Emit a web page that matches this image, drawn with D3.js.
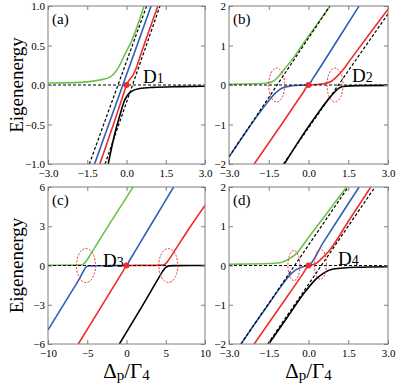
<!DOCTYPE html>
<html>
<head>
<meta charset="utf-8">
<script src="https://cdn.jsdelivr.net/npm/d3@7"></script>
<style>
  body { margin: 0; background: #fff; }
  text { font-family: "Liberation Serif", "Times New Roman", serif; }
</style>
</head>
<body>
<div id="chart"></div>
<script>
// ---- values (x = detuning, y = eigenenergy) ----
var aGreen = [[-3,0.025],[-2,0.03],[-1.5,0.04],[-1,0.065],[-0.63,0.1],[-0.31,0.22],[-0.06,0.39],[0.2,0.56],[0.45,0.78],[0.67,1.0]];
var aBlue  = [[-1.22,-1],[0.94,1]];
var aRed   = [[-1.02,-1],[-0.5,-0.5],[-0.1,-0.1],[0,0],[0.12,0.07],[0.26,0.13],[0.4,0.24],[0.52,0.36],[0.8,0.63],[1.2,1]];
var aBlack = [[-0.7,-1],[-0.45,-0.62],[-0.25,-0.38],[-0.08,-0.2],[0.15,-0.09],[0.5,-0.045],[1,-0.03],[2,-0.02],[3,-0.015]];
var aDash  = [[[-3,0],[3,0]], [[-1.42,-1],[0.77,1]], [[-0.82,-1],[1.28,1]]];

var bGreen = [[-3,0.02],[-2,0.03],[-1.6,0.045],[-1.45,0.06],[-1.3,0.11],[-1.14,0.21],[-0.89,0.42],[-0.63,0.63],[-0.3,0.95],[0.4,1.61],[0.81,2]];
var bBlue  = [[-3,-1.82],[-2.27,-1.1],[-1.9,-0.75],[-1.6,-0.48],[-1.26,-0.21],[-1.01,-0.08],[-0.63,-0.02],[-0.3,-0.005],[0,0],[0.15,0.15],[1.06,1.1],[1.91,2]];
var bRed   = [[-2.05,-2],[-1,-0.98],[-0.2,-0.19],[0,0],[0.3,0.01],[0.62,0.04],[0.85,0.09],[1.0,0.17],[1.25,0.34],[1.57,0.63],[2.13,1.14],[3,1.92]];
var bBlack = [[-0.91,-2],[-0.1,-1.15],[0.2,-0.86],[0.5,-0.58],[0.8,-0.32],[1.0,-0.17],[1.15,-0.08],[1.31,-0.04],[1.88,-0.015],[3,-0.01]];
var bDash  = [[[-3,0],[3,0]], [[-3,-1.82],[0.81,2]], [[-0.95,-2],[3,1.8]]];
var bRings = [[-1.2,0],[1.0,0]];

var cGreen = [[-10,0.02],[-5.8,0.03],[-5.4,0.15],[-5.0,0.45],[-4.5,0.93],[-2,3.33],[0.85,6]];
var cBlue  = [[-10,-4.93],[-7,-2.0],[-5.9,-0.9],[-5.5,-0.45],[-5.2,-0.15],[-4.8,-0.03],[-2,-0.01],[-0.2,0],[0,0],[0.4,0.4],[3,3],[6,6]];
var cRed   = [[-6.14,-6],[-3,-2.93],[-0.4,-0.39],[0,0],[0.4,0.005],[2,0.01],[4.6,0.03],[5.0,0.15],[5.4,0.45],[6,1.0],[8,2.85],[10,4.6]];
var cBlack = [[-0.91,-6],[2,-3.1],[4.2,-0.85],[4.6,-0.45],[5.0,-0.15],[5.4,-0.03],[6,-0.01],[10,0]];
var cDash  = [[[-10,0],[10,0]]];
var cRings = [[-5.16,0],[5.33,0]];

var dGreen = [[-3,0.03],[-2.58,0.035],[-1.5,0.05],[-1.08,0.07],[-0.7,0.18],[-0.45,0.31],[-0.07,0.65],[0.5,1.16],[1.44,2]];
var dBlue  = [[-2.55,-2],[-2,-1.46],[-1.5,-0.98],[-1.0,-0.5],[-0.7,-0.24],[-0.45,-0.1],[-0.2,-0.03],[0,0],[0.56,0.59],[1.2,1.26],[1.91,2]];
var dRed   = [[-2.05,-2],[-1,-0.98],[-0.2,-0.2],[0,0],[0.25,0.04],[0.5,0.18],[0.75,0.35],[1.5,1.12],[2.35,2]];
var dBlack = [[-1.5,-2],[-0.8,-1.32],[-0.07,-0.62],[0.31,-0.33],[0.56,-0.2],[0.94,-0.09],[1.82,-0.045],[3,-0.03]];
var dDash  = [[[-3,0],[3,0]], [[-2.55,-2],[1.5,2]], [[-1.54,-2],[2.51,2]]];
var dRings = [[-0.55,0],[0.45,0.03]];

var ticks13 = [-3, -1.5, 0, 1.5, 3];
var ticks2  = [-2, -1, 0, 1, 2];
var ticksA  = [-1, -0.5, 0, 0.5, 1];
var ticksCx = [-10, -5, 0, 5, 10];
var ticksCy = [-6, -3, 0, 3, 6];

var colours = {green: '#6cc24a', blue: '#2f5fb8', red: '#f02b2b', black: '#000'};

var panels = [
  {id: 'a', box: [48, 205, 6, 164], xd: [-3, 3], yd: [-1, 1], xt: ticks13, yt: ticksA, xf: '.1f', yf: '.1f',
   curves: [aGreen, aBlue, aRed, aBlack], dash: aDash, rings: [], rr: [0, 0], sub: '1', labAt: [0.63, 0.02]},
  {id: 'b', box: [229, 388, 6, 164], xd: [-3, 3], yd: [-2, 2], xt: ticks13, yt: ticks2, xf: '.1f', yf: 'd',
   curves: [bGreen, bBlue, bRed, bBlack], dash: bDash, rings: bRings, rr: [8, 17], sub: '2', labAt: [1.64, 0.08]},
  {id: 'c', box: [48, 205, 187, 344], xd: [-10, 10], yd: [-6, 6], xt: ticksCx, yt: ticksCy, xf: 'd', yf: 'd',
   curves: [cGreen, cBlue, cRed, cBlack], dash: cDash, rings: cRings, rr: [9.5, 17], sub: '3', labAt: [-3.0, -0.12]},
  {id: 'd', box: [229, 388, 187, 344], xd: [-3, 3], yd: [-2, 2], xt: ticks13, yt: ticks2, xf: '.1f', yf: 'd',
   curves: [dGreen, dBlue, dRed, dBlack], dash: dDash, rings: dRings, rr: [6, 15], sub: '4', labAt: [1.11, 0.01]}
];

var svg = d3.select('#chart').append('svg')
    .attr('width', 399)
    .attr('height', 383);

var curveColours = [colours.green, colours.blue, colours.red, colours.black];

function fmt(spec) {
  var f = d3.format(spec);
  return function(v) { return f(v).replace('-', '\u2212'); };
}

panels.forEach(function(p) {
  var x = d3.scaleLinear().domain(p.xd).range([p.box[0], p.box[1]]);
  var y = d3.scaleLinear().domain(p.yd).range([p.box[3], p.box[2]]);
  var w = p.box[1] - p.box[0], h = p.box[3] - p.box[2];

  svg.append('clipPath').attr('id', 'clip-' + p.id)
    .append('rect')
      .attr('x', p.box[0]).attr('y', p.box[2])
      .attr('width', w).attr('height', h);

  var g = svg.append('g').attr('clip-path', 'url(#clip-' + p.id + ')');

  var line = d3.line()
      .curve(d3.curveMonotoneX)
      .x(function(d) { return x(d[0]); })
      .y(function(d) { return y(d[1]); });

  g.selectAll('.curve')
      .data(p.curves)
    .enter().append('path')
      .attr('class', 'curve')
      .attr('d', line)
      .attr('fill', 'none')
      .attr('stroke', function(d, i) { return curveColours[i]; })
      .attr('stroke-width', 1.6);

  g.selectAll('.dash')
      .data(p.dash)
    .enter().append('path')
      .attr('class', 'dash')
      .attr('d', d3.line().x(function(d) { return x(d[0]); }).y(function(d) { return y(d[1]); }))
      .attr('fill', 'none')
      .attr('stroke', '#000')
      .attr('stroke-width', 1.2)
      .style('stroke-dasharray', '3,2');

  // avoided-crossing rings
  svg.selectAll('.ring-' + p.id)
      .data(p.rings)
    .enter().append('ellipse')
      .attr('cx', function(d) { return x(d[0]); })
      .attr('cy', function(d) { return y(d[1]); })
      .attr('rx', p.rr[0])
      .attr('ry', p.rr[1])
      .attr('fill', 'none')
      .attr('stroke', colours.red)
      .attr('stroke-width', 1)
      .style('stroke-dasharray', '2,1.5');

  // degenerate point
  svg.append('circle')
      .attr('cx', x(0)).attr('cy', y(0)).attr('r', 3)
      .attr('fill', colours.red);

  // frame + inward ticks on all sides
  svg.append('rect')
      .attr('x', p.box[0]).attr('y', p.box[2])
      .attr('width', w).attr('height', h)
      .attr('fill', 'none').attr('stroke', '#7f7f7f').attr('stroke-width', 1);

  var xAxis = d3.axisBottom(x).tickValues(p.xt).tickFormat(fmt(p.xf))
      .tickSizeInner(-4).tickSizeOuter(0).tickPadding(5);
  var yAxis = d3.axisLeft(y).tickValues(p.yt).tickFormat(fmt(p.yf))
      .tickSizeInner(-4).tickSizeOuter(0).tickPadding(3);

  var xa = svg.append('g').attr('transform', 'translate(0,' + p.box[3] + ')').call(xAxis);
  var ya = svg.append('g').attr('transform', 'translate(' + p.box[0] + ',0)').call(yAxis);
  var xt = svg.append('g').attr('transform', 'translate(0,' + p.box[2] + ')')
      .call(d3.axisTop(x).tickValues(p.xt).tickFormat('').tickSizeInner(-4).tickSizeOuter(0));
  var yr = svg.append('g').attr('transform', 'translate(' + p.box[1] + ',0)')
      .call(d3.axisRight(y).tickValues(p.yt).tickFormat('').tickSizeInner(-4).tickSizeOuter(0));

  [xa, ya, xt, yr].forEach(function(a) {
    a.select('.domain').remove();
    a.selectAll('line').attr('stroke', '#7f7f7f');
    a.selectAll('text')
        .style('font-family', '"Liberation Serif", serif')
        .style('font-size', '11px')
        .attr('fill', '#000');
  });

  // panel tag
  svg.append('text')
      .attr('x', p.box[0] + 4).attr('y', p.box[2] + 18)
      .style('font-size', '15px')
      .text('(' + p.id + ')');

  // D label
  var t = svg.append('text')
      .attr('x', x(p.labAt[0])).attr('y', y(p.labAt[1]))
      .style('font-size', '19px');
  t.append('tspan').text('D');
  t.append('tspan').style('font-size', '14px').text(p.sub);
});

// axis titles
[85, 265.5].forEach(function(cy) {
  svg.append('text')
      .attr('transform', 'translate(23,' + cy + ') rotate(-90)')
      .attr('text-anchor', 'middle')
      .style('font-size', '19px')
      .text('Eigenenergy');
});

[126.5, 308.5].forEach(function(cx) {
  var t = svg.append('text')
      .attr('x', cx).attr('y', 378)
      .attr('text-anchor', 'middle')
      .style('font-size', '21px');
  t.append('tspan').text('\u0394');
  t.append('tspan').style('font-size', '15px').attr('dy', 2).text('p');
  t.append('tspan').attr('dy', -2).text('/\u0393');
  t.append('tspan').style('font-size', '15px').attr('dy', 2).text('4');
});
</script>
</body>
</html>
